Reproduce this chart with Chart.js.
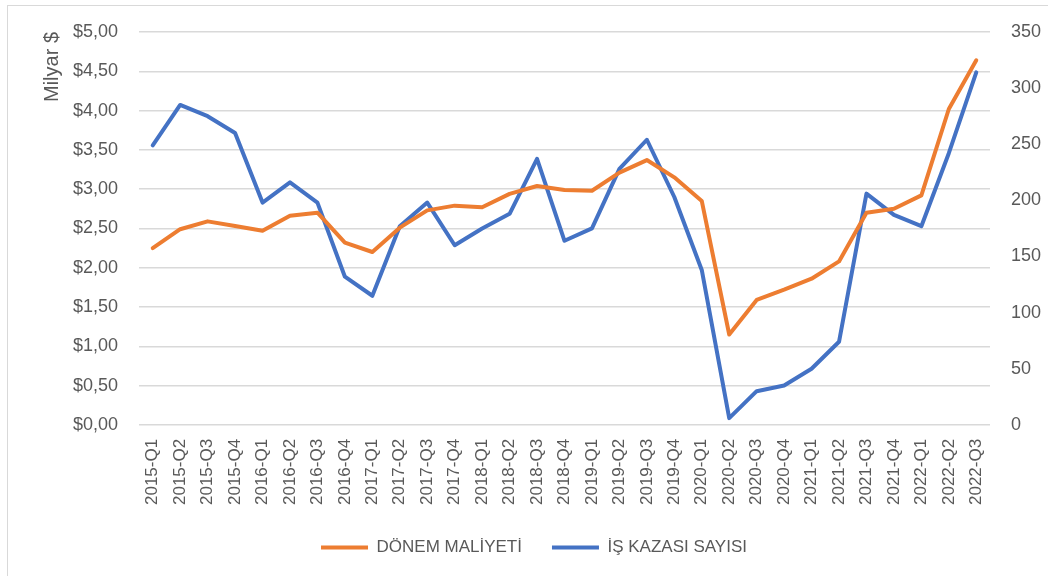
<!DOCTYPE html>
<html>
<head>
<meta charset="utf-8">
<script src="https://cdn.jsdelivr.net/npm/chart.js@4"></script>
<style>
  html, body { margin: 0; padding: 0; background: #fff; }
  #wrap { position: relative; width: 1048px; height: 576px; overflow: hidden; }
  #frame { position: absolute; left: 7px; top: 5px; width: 1100px; height: 600px; border: 1px solid #d9d9d9; }
  canvas { position: absolute; left: 0; top: 0; }
</style>
</head>
<body>
<div id="wrap">
  <div id="frame"></div>
  <canvas id="chart" width="1048" height="576"></canvas>
</div>
<script>
const quarters = [
    '2015-Q1', '2015-Q2', '2015-Q3', '2015-Q4',
    '2016-Q1', '2016-Q2', '2016-Q3', '2016-Q4',
    '2017-Q1', '2017-Q2', '2017-Q3', '2017-Q4',
    '2018-Q1', '2018-Q2', '2018-Q3', '2018-Q4',
    '2019-Q1', '2019-Q2', '2019-Q3', '2019-Q4',
    '2020-Q1', '2020-Q2', '2020-Q3', '2020-Q4',
    '2021-Q1', '2021-Q2', '2021-Q3', '2021-Q4',
    '2022-Q1', '2022-Q2', '2022-Q3'
];

// billion $ (left axis)
const donemMaliyeti = [
    2.25, 2.49, 2.59, 2.53,
    2.47, 2.66, 2.70, 2.32,
    2.20, 2.51, 2.73, 2.79,
    2.77, 2.94, 3.04, 2.99,
    2.98, 3.21, 3.37, 3.15,
    2.85, 1.15, 1.59, 1.72,
    1.86, 2.08, 2.70, 2.75,
    2.92, 4.02, 4.64
];

// accident count (right axis)
const isKazasiSayisi = [
    249, 285, 275, 260,
    198, 216, 198, 132,
    115, 177, 198, 160,
    175, 188, 237, 164,
    175, 228, 254, 203,
    138, 6, 30, 35,
    50, 74, 206, 187,
    177, 242, 314
];

const seriesNames = ['DÖNEM MALİYETİ', 'İŞ KAZASI SAYISI'];

const textColor = '#595959';
const gridColor = '#d9d9d9';
const family = "'Liberation Sans', Arial, sans-serif";
const font = { family: family, size: 18 };

const ctx = document.getElementById('chart').getContext('2d');

new Chart(ctx, {
    type: 'line',
    data: {
        labels: quarters,
        datasets: [
            {
                label: seriesNames[0],
                data: donemMaliyeti,
                yAxisID: 'y',
                borderColor: '#ED7D31',
                backgroundColor: '#ED7D31',
                borderWidth: 4,
                pointRadius: 0,
                tension: 0,
                borderJoinStyle: 'round',
                borderCapStyle: 'round'
            },
            {
                label: seriesNames[1],
                data: isKazasiSayisi,
                yAxisID: 'y2',
                borderColor: '#4472C4',
                backgroundColor: '#4472C4',
                borderWidth: 4,
                pointRadius: 0,
                tension: 0,
                borderJoinStyle: 'round',
                borderCapStyle: 'round'
            }
        ]
    },
    options: {
        responsive: false,
        animation: false,
        layout: {
            padding: { left: 20, right: 0, top: 32, bottom: 10 }
        },
        plugins: {
            tooltip: { enabled: false },
            legend: {
                position: 'bottom',
                labels: {
                    color: textColor,
                    font: { family: family, size: 17 },
                    usePointStyle: true,
                    pointStyle: 'line',
                    pointStyleWidth: 47,
                    boxHeight: 17,
                    padding: 30
                }
            }
        },
        scales: {
            x: {
                offset: true,
                grid: { display: false, drawTicks: false },
                border: { display: false },
                ticks: {
                    color: textColor,
                    font: { family: family, size: 17 },
                    autoSkip: false,
                    maxRotation: 90,
                    minRotation: 90,
                    padding: 14
                },
                afterFit: scale => { scale.height -= 10; }
            },
            y: {
                position: 'left',
                min: 0,
                max: 5,
                ticks: {
                    stepSize: 0.5,
                    color: textColor,
                    font: font,
                    padding: 21,
                    callback: v => '$' + v.toFixed(2).replace('.', ',')
                },
                grid: { color: gridColor, lineWidth: 1.5, drawTicks: false },
                border: { display: false },
                title: {
                    display: true,
                    text: 'Milyar $',
                    align: 'end',
                    color: textColor,
                    font: { family: family, size: 20 },
                    padding: { top: 20, bottom: 4 }
                },
                afterFit: scale => { scale.width = 119; }
            },
            y2: {
                position: 'right',
                min: 0,
                max: 350,
                ticks: {
                    stepSize: 50,
                    color: textColor,
                    font: font,
                    padding: 21
                },
                grid: { display: false, drawTicks: false },
                border: { display: false },
                afterFit: scale => { scale.width = 58; }
            }
        }
    }
});
</script>
</body>
</html>
